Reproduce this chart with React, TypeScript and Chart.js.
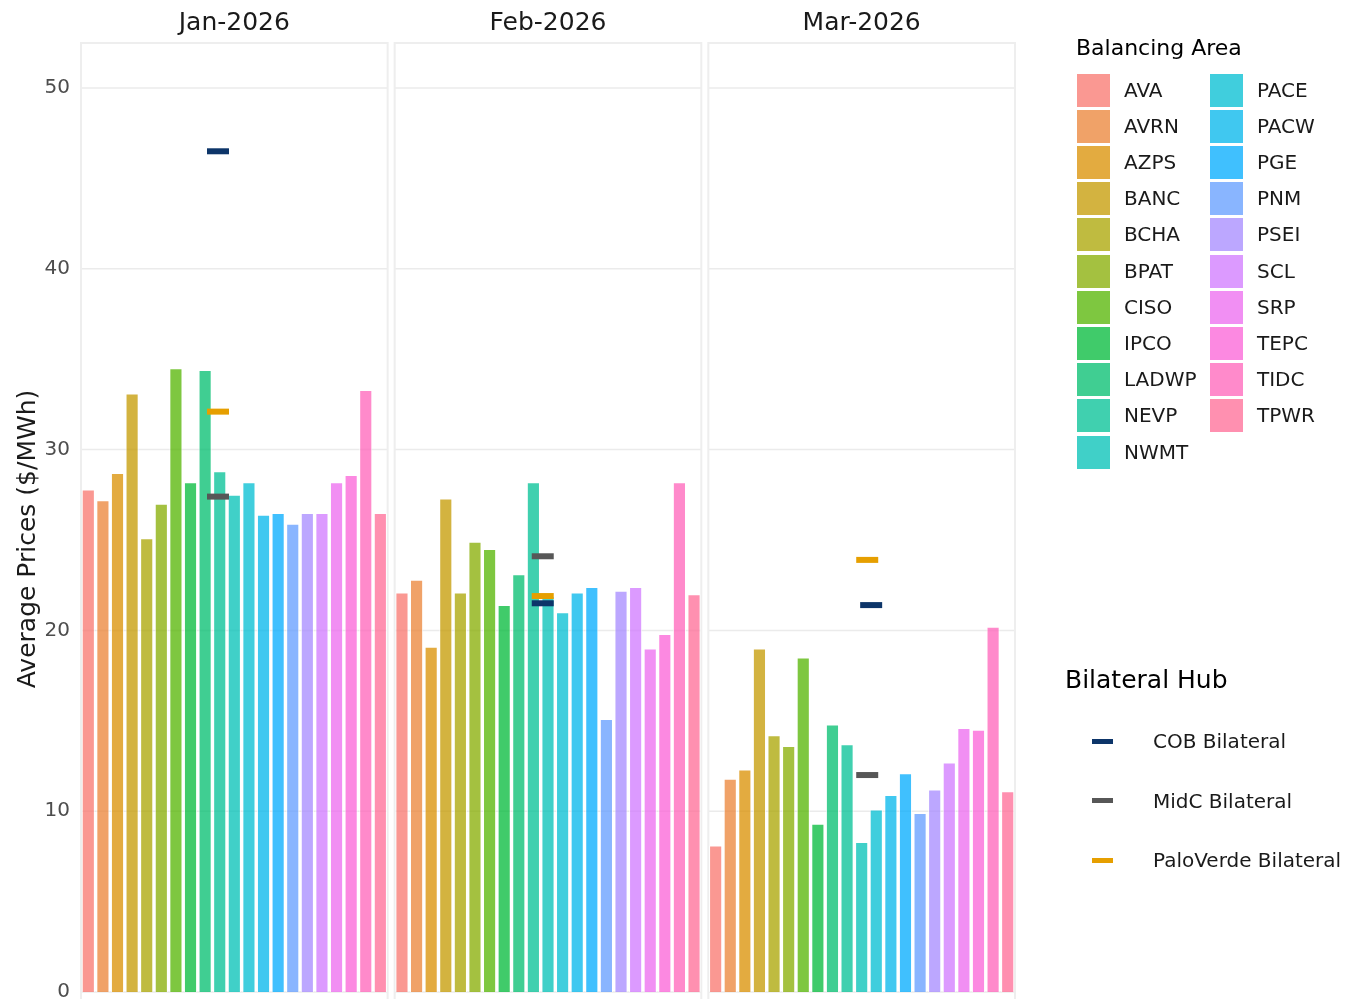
import React, { useEffect, useRef } from "react";
import { Chart, registerables } from "chart.js";
Chart.register(...registerables);

// ---------------- data ----------------
const months = ["Jan-2026", "Feb-2026", "Mar-2026"];
const areas = [
  "AVA", "AVRN", "AZPS", "BANC", "BCHA", "BPAT", "CISO", "IPCO", "LADWP", "NEVP", "NWMT",
  "PACE", "PACW", "PGE", "PNM", "PSEI", "SCL", "SRP", "TEPC", "TIDC", "TPWR",
];
const janPrices = [27.8, 27.2, 28.7, 33.1, 25.1, 27.0, 34.5, 28.2, 34.4, 28.8, 27.5, 28.2, 26.4, 26.5, 25.9, 26.5, 26.5, 28.2, 28.6, 33.3, 26.5];
const febPrices = [22.1, 22.8, 19.1, 27.3, 22.1, 24.9, 24.5, 21.4, 23.1, 28.2, 21.9, 21.0, 22.1, 22.4, 15.1, 22.2, 22.4, 19.0, 19.8, 28.2, 22.0];
const marPrices = [8.1, 11.8, 12.3, 19.0, 14.2, 13.6, 18.5, 9.3, 14.8, 13.7, 8.3, 10.1, 10.9, 12.1, 9.9, 11.2, 12.7, 14.6, 14.5, 20.2, 11.1];
const monthPrices = [janPrices, febPrices, marPrices];

const hubs = ["COB Bilateral", "MidC Bilateral", "PaloVerde Bilateral"];
const cobPrices = [46.5, 21.5, 21.4];
const midcPrices = [27.4, 24.1, 12.0];
const paloVerdePrices = [32.1, 21.9, 23.9];
const hubPrices = [cobPrices, midcPrices, paloVerdePrices];
// position of the hub marks inside each month panel, in bar slots
const cobSlot = [9.38, 10.14, 11.15];
const midcSlot = [9.38, 10.14, 10.88];
const paloVerdeSlot = [9.38, 10.14, 10.88];
const hubSlots = [cobSlot, midcSlot, paloVerdeSlot];

const yTicks = [0, 10, 20, 30, 40, 50];

// ---------------- styles ----------------
const hubColors = ["#0d3569", "#575757", "#E69F00"];
const PANEL_GAP = 0.48;
const SLOTS = areas.length;
const FONT = '"DejaVu Sans", "Noto Sans", sans-serif';

function hcl(h: number, c: number, l: number): [number, number, number] {
  const hr = (h * Math.PI) / 180;
  const U = c * Math.cos(hr);
  const V = c * Math.sin(hr);
  const Xn = 95.047, Yn = 100, Zn = 108.883;
  const Y = l > 8 ? Yn * Math.pow((l + 16) / 116, 3) : (Yn * l) / 903.3;
  const den = Xn + 15 * Yn + 3 * Zn;
  const un = (4 * Xn) / den, vn = (9 * Yn) / den;
  const u = U / (13 * l) + un;
  const v = V / (13 * l) + vn;
  const X = (9 * Y * u) / (4 * v);
  const Z = (Y * (12 - 3 * u - 20 * v)) / (4 * v);
  const x = X / 100, y = Y / 100, z = Z / 100;
  const lin = [
    3.240479 * x - 1.53715 * y - 0.498535 * z,
    -0.969256 * x + 1.875992 * y + 0.041556 * z,
    0.055648 * x - 0.204043 * y + 1.057311 * z,
  ];
  return lin.map((t) => {
    const g = t <= 0.0031308 ? 12.92 * t : 1.055 * Math.pow(t, 1 / 2.4) - 0.055;
    return Math.round(Math.min(1, Math.max(0, g)) * 255);
  }) as [number, number, number];
}
const ALPHA = 0.75;
const areaColors = areas.map((_, i) => {
  const [r, g, b] = hcl(15 + (i * 360) / areas.length, 100, 65);
  return `rgba(${r},${g},${b},${ALPHA})`;
});

const panelStart = (p: number) => p * (SLOTS + PANEL_GAP);

const facetPlugin = {
  id: "facets",
  beforeDatasetsDraw(chart: any) {
    const { ctx, chartArea, scales } = chart;
    const xs = scales.x, ys = scales.y;
    months.forEach((m, p) => {
      const left = xs.getPixelForValue(panelStart(p));
      const right = xs.getPixelForValue(panelStart(p) + SLOTS);
      ctx.save();
      ctx.strokeStyle = "#ebebeb";
      ctx.lineWidth = 1.5;
      yTicks.forEach((t) => {
        const py = ys.getPixelForValue(t);
        ctx.beginPath();
        ctx.moveTo(left, py);
        ctx.lineTo(right, py);
        ctx.stroke();
      });
      ctx.lineWidth = 2;
      ctx.strokeStyle = "#eeeeee";
      ctx.strokeRect(left, chartArea.top, right - left, chartArea.bottom - chartArea.top);
      ctx.fillStyle = "#1a1a1a";
      ctx.font = `25px ${FONT}`;
      ctx.textAlign = "center";
      ctx.textBaseline = "middle";
      ctx.fillText(m, (left + right) / 2, 23);
      ctx.restore();
    });
  },
};

export default function App() {
  const ref = useRef<HTMLCanvasElement>(null);

  useEffect(() => {
    const barData: { x: number; y: number }[] = [];
    const barColors: string[] = [];
    monthPrices.forEach((vals, p) => {
      vals.forEach((v, i) => {
        barData.push({ x: panelStart(p) + i + 0.5, y: v });
        barColors.push(areaColors[i]);
      });
    });

    const hubDatasets = hubs.map((h, k) => ({
      type: "scatter" as const,
      label: h,
      order: k + 1,
      data: hubPrices[k].map((v, p) => ({ x: panelStart(p) + hubSlots[k][p], y: v })),
      pointStyle: "line" as const,
      pointRadius: 11,
      pointHoverRadius: 11,
      pointBorderWidth: 6,
      pointBorderColor: hubColors[k],
      pointBackgroundColor: hubColors[k],
      borderColor: hubColors[k],
      showLine: false,
    }));

    const chart = new Chart(ref.current!, {
      type: "bar",
      data: {
        datasets: [
          ...hubDatasets,
          {
            type: "bar" as const,
            label: "Balancing Area",
            order: 10,
            data: barData,
            backgroundColor: barColors,
            borderColor: "rgba(255,255,255,0.75)",
            borderWidth: 1,
            barPercentage: 0.9,
            categoryPercentage: 1,
            grouped: false,
          } as any,
        ],
      },
      options: {
        animation: false,
        responsive: false,
        events: [],
        layout: { autoPadding: false, padding: { top: 43, right: 338, bottom: 5, left: 0 } },
        plugins: { legend: { display: false }, tooltip: { enabled: false } },
        scales: {
          x: {
            type: "linear",
            display: false,
            min: 0,
            max: 3 * SLOTS + 2 * PANEL_GAP,
            afterBuildTicks: (s: any) => {
              s.ticks = [];
            },
          },
          y: {
            type: "linear",
            min: -2.378,
            max: 52.489,
            afterBuildTicks: (s: any) => {
              s.ticks = yTicks.map((v) => ({ value: v }));
            },
            afterFit: (s: any) => {
              s.width = 81;
              s.paddingTop = 0;
              s.paddingBottom = 0;
            },
            grid: { display: false, drawTicks: false },
            border: { display: false },
            ticks: {
              padding: 11,
              color: "#4d4d4d",
              font: { family: FONT, size: 20 },
            },
            title: {
              display: true,
              text: "Average Prices ($/MWh)",
              color: "#1a1a1a",
              font: { family: FONT, size: 25 },
              padding: { top: 13, bottom: 0 },
            },
          },
        },
      } as any,
      plugins: [facetPlugin],
    });
    return () => chart.destroy();
  }, []);

  const colLeft = [1077, 1210];
  return (
    <div
      style={{
        position: "fixed",
        left: 0,
        top: 0,
        width: 1353,
        height: 999,
        overflow: "hidden",
        background: "#fff",
        fontFamily: FONT,
      }}
    >
      <canvas ref={ref} width={1353} height={1040} style={{ position: "absolute", left: 0, top: 0, width: 1353, height: 1040 }} />
      <div style={{ position: "absolute", left: 1076, top: 35, fontSize: 22, lineHeight: "26px", color: "#000", whiteSpace: "nowrap" }}>
        Balancing Area
      </div>
      {areas.map((a, i) => {
        const c = i < 11 ? 0 : 1;
        const r = i < 11 ? i : i - 11;
        const top = 73.5 + r * 36.2;
        return (
          <React.Fragment key={a}>
            <div
              style={{
                position: "absolute",
                left: colLeft[c],
                top,
                width: 33,
                height: 33,
                background: areaColors[i],
              }}
            />
            <div
              style={{
                position: "absolute",
                left: colLeft[c] + 47,
                top,
                height: 33,
                lineHeight: "33px",
                fontSize: 20,
                color: "#1a1a1a",
                whiteSpace: "nowrap",
              }}
            >
              {a}
            </div>
          </React.Fragment>
        );
      })}
      <div style={{ position: "absolute", left: 1065, top: 665, fontSize: 25, lineHeight: "30px", color: "#000", whiteSpace: "nowrap" }}>
        Bilateral Hub
      </div>
      {hubs.map((h, k) => {
        const cy = 741 + k * 59.7;
        return (
          <React.Fragment key={h}>
            <div style={{ position: "absolute", left: 1092, top: cy - 2.5, width: 21, height: 5, background: hubColors[k] }} />
            <div
              style={{
                position: "absolute",
                left: 1153,
                top: cy - 15,
                height: 30,
                lineHeight: "30px",
                fontSize: 20,
                color: "#1a1a1a",
                whiteSpace: "nowrap",
              }}
            >
              {h}
            </div>
          </React.Fragment>
        );
      })}
    </div>
  );
}
